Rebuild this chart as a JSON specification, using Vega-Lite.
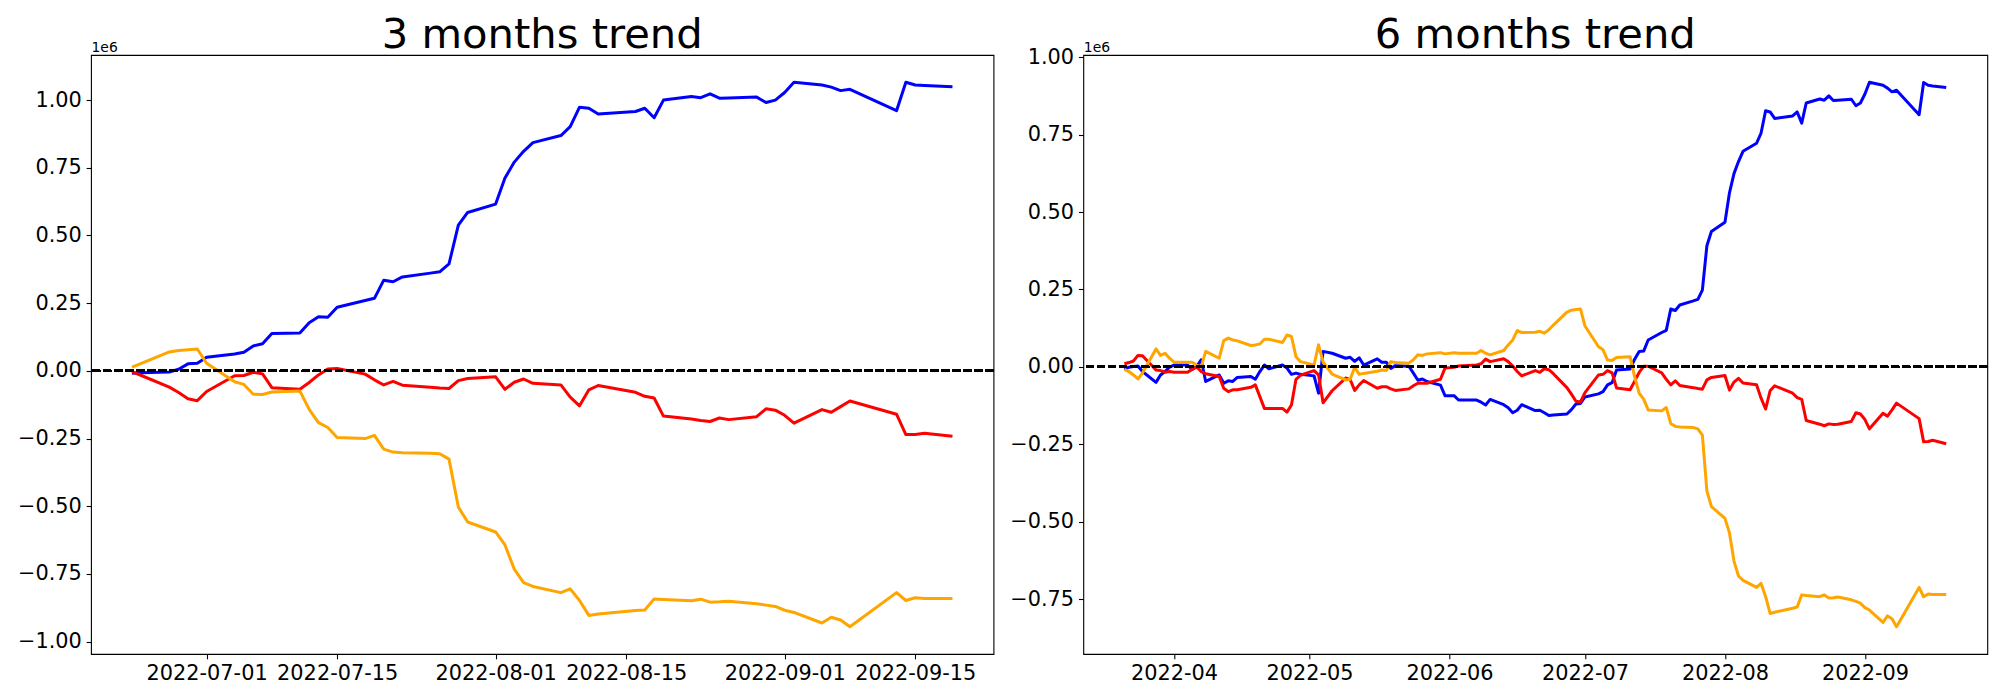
{
  "$schema": "https://vega.github.io/schema/vega-lite/v6.json",
  "background": "white",
  "padding": {"left": 16, "top": 14, "right": 14, "bottom": 10},
  "bounds": "flush",
  "spacing": 89.3,
  "datasets": {
    "m3": [
      {"date": "2022-06-23", "Foreign": -9000, "Institution": -3000, "Individual": 14000},
      {"date": "2022-06-24", "Foreign": -7000, "Institution": -17000, "Individual": 28000},
      {"date": "2022-06-27", "Foreign": -4000, "Institution": -60000, "Individual": 70000},
      {"date": "2022-06-28", "Foreign": 6000, "Institution": -80000, "Individual": 75000},
      {"date": "2022-06-29", "Foreign": 26000, "Institution": -103000, "Individual": 78000},
      {"date": "2022-06-30", "Foreign": 28000, "Institution": -110000, "Individual": 81000},
      {"date": "2022-07-01", "Foreign": 50000, "Institution": -76000, "Individual": 28000},
      {"date": "2022-07-04", "Foreign": 62000, "Institution": -18000, "Individual": -40000},
      {"date": "2022-07-05", "Foreign": 69000, "Institution": -17000, "Individual": -50000},
      {"date": "2022-07-06", "Foreign": 92000, "Institution": -5000, "Individual": -86000},
      {"date": "2022-07-07", "Foreign": 100000, "Institution": -11000, "Individual": -87000},
      {"date": "2022-07-08", "Foreign": 138000, "Institution": -62000, "Individual": -78000},
      {"date": "2022-07-11", "Foreign": 140000, "Institution": -68000, "Individual": -74000},
      {"date": "2022-07-12", "Foreign": 178000, "Institution": -43000, "Individual": -142000},
      {"date": "2022-07-13", "Foreign": 200000, "Institution": -15000, "Individual": -191000},
      {"date": "2022-07-14", "Foreign": 198000, "Institution": 7000, "Individual": -209000},
      {"date": "2022-07-15", "Foreign": 235000, "Institution": 9000, "Individual": -246000},
      {"date": "2022-07-18", "Foreign": 260000, "Institution": -12000, "Individual": -250000},
      {"date": "2022-07-19", "Foreign": 268000, "Institution": -33000, "Individual": -238000},
      {"date": "2022-07-20", "Foreign": 335000, "Institution": -52000, "Individual": -289000},
      {"date": "2022-07-21", "Foreign": 329000, "Institution": -39000, "Individual": -300000},
      {"date": "2022-07-22", "Foreign": 347000, "Institution": -53000, "Individual": -302000},
      {"date": "2022-07-25", "Foreign": 361000, "Institution": -60000, "Individual": -304000},
      {"date": "2022-07-26", "Foreign": 366000, "Institution": -63000, "Individual": -306000},
      {"date": "2022-07-27", "Foreign": 395000, "Institution": -65000, "Individual": -326000},
      {"date": "2022-07-28", "Foreign": 538000, "Institution": -36000, "Individual": -503000},
      {"date": "2022-07-29", "Foreign": 585000, "Institution": -28000, "Individual": -558000},
      {"date": "2022-08-01", "Foreign": 616000, "Institution": -22000, "Individual": -595000},
      {"date": "2022-08-02", "Foreign": 712000, "Institution": -68000, "Individual": -643000},
      {"date": "2022-08-03", "Foreign": 771000, "Institution": -42000, "Individual": -732000},
      {"date": "2022-08-04", "Foreign": 811000, "Institution": -30000, "Individual": -782000},
      {"date": "2022-08-05", "Foreign": 843000, "Institution": -46000, "Individual": -796000},
      {"date": "2022-08-08", "Foreign": 869000, "Institution": -52000, "Individual": -819000},
      {"date": "2022-08-09", "Foreign": 902000, "Institution": -97000, "Individual": -805000},
      {"date": "2022-08-10", "Foreign": 974000, "Institution": -129000, "Individual": -848000},
      {"date": "2022-08-11", "Foreign": 970000, "Institution": -70000, "Individual": -903000},
      {"date": "2022-08-12", "Foreign": 949000, "Institution": -54000, "Individual": -898000},
      {"date": "2022-08-16", "Foreign": 958000, "Institution": -79000, "Individual": -885000},
      {"date": "2022-08-17", "Foreign": 970000, "Institution": -94000, "Individual": -883000},
      {"date": "2022-08-18", "Foreign": 935000, "Institution": -100000, "Individual": -842000},
      {"date": "2022-08-19", "Foreign": 1000000, "Institution": -167000, "Individual": -844000},
      {"date": "2022-08-22", "Foreign": 1013000, "Institution": -178000, "Individual": -849000},
      {"date": "2022-08-23", "Foreign": 1009000, "Institution": -183000, "Individual": -843000},
      {"date": "2022-08-24", "Foreign": 1023000, "Institution": -187000, "Individual": -854000},
      {"date": "2022-08-25", "Foreign": 1007000, "Institution": -174000, "Individual": -853000},
      {"date": "2022-08-26", "Foreign": 1008000, "Institution": -180000, "Individual": -851000},
      {"date": "2022-08-29", "Foreign": 1011000, "Institution": -169000, "Individual": -860000},
      {"date": "2022-08-30", "Foreign": 991000, "Institution": -140000, "Individual": -865000},
      {"date": "2022-08-31", "Foreign": 1000000, "Institution": -145000, "Individual": -870000},
      {"date": "2022-09-01", "Foreign": 1028000, "Institution": -164000, "Individual": -884000},
      {"date": "2022-09-02", "Foreign": 1066000, "Institution": -193000, "Individual": -892000},
      {"date": "2022-09-05", "Foreign": 1056000, "Institution": -143000, "Individual": -931000},
      {"date": "2022-09-06", "Foreign": 1048000, "Institution": -153000, "Individual": -910000},
      {"date": "2022-09-07", "Foreign": 1035000, "Institution": -132000, "Individual": -920000},
      {"date": "2022-09-08", "Foreign": 1040000, "Institution": -111000, "Individual": -945000},
      {"date": "2022-09-13", "Foreign": 961000, "Institution": -160000, "Individual": -819000},
      {"date": "2022-09-14", "Foreign": 1066000, "Institution": -235000, "Individual": -848000},
      {"date": "2022-09-15", "Foreign": 1056000, "Institution": -235000, "Individual": -838000},
      {"date": "2022-09-16", "Foreign": 1054000, "Institution": -230000, "Individual": -841000},
      {"date": "2022-09-19", "Foreign": 1049000, "Institution": -241000, "Individual": -841000}
    ],
    "m6": [
      {"date": "2022-03-21", "Foreign": -8000, "Institution": 10000, "Individual": -8000},
      {"date": "2022-03-22", "Foreign": -1000, "Institution": 14000, "Individual": -15000},
      {"date": "2022-03-23", "Foreign": 1000, "Institution": 19000, "Individual": -26000},
      {"date": "2022-03-24", "Foreign": 3000, "Institution": 37000, "Individual": -39000},
      {"date": "2022-03-25", "Foreign": -15000, "Institution": 36000, "Individual": -20000},
      {"date": "2022-03-28", "Foreign": -50000, "Institution": -10000, "Individual": 58000},
      {"date": "2022-03-29", "Foreign": -26000, "Institution": -12000, "Individual": 37000},
      {"date": "2022-03-30", "Foreign": -15000, "Institution": -17000, "Individual": 44000},
      {"date": "2022-03-31", "Foreign": -1000, "Institution": -15000, "Individual": 28000},
      {"date": "2022-04-01", "Foreign": 6000, "Institution": -17000, "Individual": 15000},
      {"date": "2022-04-04", "Foreign": 6000, "Institution": -17000, "Individual": 15000},
      {"date": "2022-04-05", "Foreign": -8000, "Institution": -8000, "Individual": 15000},
      {"date": "2022-04-06", "Foreign": 1000, "Institution": 0, "Individual": 6000},
      {"date": "2022-04-07", "Foreign": 23000, "Institution": -15000, "Individual": -1000},
      {"date": "2022-04-08", "Foreign": -47000, "Institution": -22000, "Individual": 50000},
      {"date": "2022-04-11", "Foreign": -26000, "Institution": -31000, "Individual": 28000},
      {"date": "2022-04-12", "Foreign": -53000, "Institution": -69000, "Individual": 85000},
      {"date": "2022-04-13", "Foreign": -45000, "Institution": -80000, "Individual": 93000},
      {"date": "2022-04-14", "Foreign": -47000, "Institution": -74000, "Individual": 87000},
      {"date": "2022-04-15", "Foreign": -34000, "Institution": -74000, "Individual": 84000},
      {"date": "2022-04-18", "Foreign": -31000, "Institution": -66000, "Individual": 69000},
      {"date": "2022-04-19", "Foreign": -40000, "Institution": -58000, "Individual": 71000},
      {"date": "2022-04-20", "Foreign": -15000, "Institution": -96000, "Individual": 74000},
      {"date": "2022-04-21", "Foreign": 6000, "Institution": -134000, "Individual": 89000},
      {"date": "2022-04-22", "Foreign": -6000, "Institution": -134000, "Individual": 89000},
      {"date": "2022-04-25", "Foreign": 6000, "Institution": -134000, "Individual": 79000},
      {"date": "2022-04-26", "Foreign": -4000, "Institution": -146000, "Individual": 103000},
      {"date": "2022-04-27", "Foreign": -24000, "Institution": -123000, "Individual": 98000},
      {"date": "2022-04-28", "Foreign": -20000, "Institution": -40000, "Individual": 33000},
      {"date": "2022-04-29", "Foreign": -24000, "Institution": -27000, "Individual": 17000},
      {"date": "2022-05-02", "Foreign": -29000, "Institution": -12000, "Individual": 6000},
      {"date": "2022-05-03", "Foreign": -85000, "Institution": -26000, "Individual": 71000},
      {"date": "2022-05-04", "Foreign": 50000, "Institution": -116000, "Individual": 15000},
      {"date": "2022-05-06", "Foreign": 44000, "Institution": -77000, "Individual": -23000},
      {"date": "2022-05-09", "Foreign": 28000, "Institution": -36000, "Individual": -42000},
      {"date": "2022-05-10", "Foreign": 31000, "Institution": -41000, "Individual": -40000},
      {"date": "2022-05-11", "Foreign": 18000, "Institution": -76000, "Individual": -1000},
      {"date": "2022-05-12", "Foreign": 29000, "Institution": -58000, "Individual": -24000},
      {"date": "2022-05-13", "Foreign": 6000, "Institution": -44000, "Individual": -21000},
      {"date": "2022-05-16", "Foreign": 26000, "Institution": -69000, "Individual": -14000},
      {"date": "2022-05-17", "Foreign": 15000, "Institution": -64000, "Individual": -10000},
      {"date": "2022-05-18", "Foreign": 15000, "Institution": -64000, "Individual": -12000},
      {"date": "2022-05-19", "Foreign": -5000, "Institution": -71000, "Individual": 17000},
      {"date": "2022-05-20", "Foreign": 4000, "Institution": -76000, "Individual": 14000},
      {"date": "2022-05-23", "Foreign": 2000, "Institution": -71000, "Individual": 12000},
      {"date": "2022-05-24", "Foreign": -20000, "Institution": -61000, "Individual": 23000},
      {"date": "2022-05-25", "Foreign": -43000, "Institution": -53000, "Individual": 39000},
      {"date": "2022-05-26", "Foreign": -39000, "Institution": -53000, "Individual": 37000},
      {"date": "2022-05-27", "Foreign": -47000, "Institution": -53000, "Individual": 42000},
      {"date": "2022-05-30", "Foreign": -59000, "Institution": -40000, "Individual": 46000},
      {"date": "2022-05-31", "Foreign": -93000, "Institution": -4000, "Individual": 42000},
      {"date": "2022-06-02", "Foreign": -93000, "Institution": -1000, "Individual": 46000},
      {"date": "2022-06-03", "Foreign": -107000, "Institution": 3000, "Individual": 44000},
      {"date": "2022-06-07", "Foreign": -107000, "Institution": 6000, "Individual": 44000},
      {"date": "2022-06-08", "Foreign": -114000, "Institution": 10000, "Individual": 53000},
      {"date": "2022-06-09", "Foreign": -123000, "Institution": 25000, "Individual": 44000},
      {"date": "2022-06-10", "Foreign": -105000, "Institution": 17000, "Individual": 39000},
      {"date": "2022-06-13", "Foreign": -122000, "Institution": 26000, "Individual": 53000},
      {"date": "2022-06-14", "Foreign": -132000, "Institution": 17000, "Individual": 71000},
      {"date": "2022-06-15", "Foreign": -148000, "Institution": 3000, "Individual": 87000},
      {"date": "2022-06-16", "Foreign": -140000, "Institution": -15000, "Individual": 117000},
      {"date": "2022-06-17", "Foreign": -122000, "Institution": -29000, "Individual": 111000},
      {"date": "2022-06-20", "Foreign": -141000, "Institution": -12000, "Individual": 112000},
      {"date": "2022-06-21", "Foreign": -140000, "Institution": -18000, "Individual": 115000},
      {"date": "2022-06-22", "Foreign": -148000, "Institution": -6000, "Individual": 109000},
      {"date": "2022-06-23", "Foreign": -157000, "Institution": -9000, "Individual": 120000},
      {"date": "2022-06-24", "Foreign": -155000, "Institution": -22000, "Individual": 135000},
      {"date": "2022-06-27", "Foreign": -152000, "Institution": -67000, "Individual": 177000},
      {"date": "2022-06-28", "Foreign": -138000, "Institution": -88000, "Individual": 183000},
      {"date": "2022-06-29", "Foreign": -120000, "Institution": -111000, "Individual": 185000},
      {"date": "2022-06-30", "Foreign": -118000, "Institution": -113000, "Individual": 187000},
      {"date": "2022-07-01", "Foreign": -97000, "Institution": -83000, "Individual": 132000},
      {"date": "2022-07-04", "Foreign": -87000, "Institution": -26000, "Individual": 65000},
      {"date": "2022-07-05", "Foreign": -80000, "Institution": -24000, "Individual": 55000},
      {"date": "2022-07-06", "Foreign": -58000, "Institution": -12000, "Individual": 22000},
      {"date": "2022-07-07", "Foreign": -51000, "Institution": -19000, "Individual": 21000},
      {"date": "2022-07-08", "Foreign": -10000, "Institution": -68000, "Individual": 30000},
      {"date": "2022-07-11", "Foreign": -7000, "Institution": -74000, "Individual": 33000},
      {"date": "2022-07-12", "Foreign": 25000, "Institution": -46000, "Individual": -32000},
      {"date": "2022-07-13", "Foreign": 50000, "Institution": -18000, "Individual": -85000},
      {"date": "2022-07-14", "Foreign": 51000, "Institution": 2000, "Individual": -104000},
      {"date": "2022-07-15", "Foreign": 87000, "Institution": 2000, "Individual": -139000},
      {"date": "2022-07-18", "Foreign": 111000, "Institution": -19000, "Individual": -142000},
      {"date": "2022-07-19", "Foreign": 118000, "Institution": -40000, "Individual": -131000},
      {"date": "2022-07-20", "Foreign": 187000, "Institution": -58000, "Individual": -183000},
      {"date": "2022-07-21", "Foreign": 182000, "Institution": -45000, "Individual": -192000},
      {"date": "2022-07-22", "Foreign": 200000, "Institution": -60000, "Individual": -194000},
      {"date": "2022-07-25", "Foreign": 213000, "Institution": -67000, "Individual": -196000},
      {"date": "2022-07-26", "Foreign": 218000, "Institution": -70000, "Individual": -200000},
      {"date": "2022-07-27", "Foreign": 248000, "Institution": -72000, "Individual": -220000},
      {"date": "2022-07-28", "Foreign": 391000, "Institution": -42000, "Individual": -400000},
      {"date": "2022-07-29", "Foreign": 437000, "Institution": -34000, "Individual": -451000},
      {"date": "2022-08-01", "Foreign": 467000, "Institution": -28000, "Individual": -489000},
      {"date": "2022-08-02", "Foreign": 562000, "Institution": -75000, "Individual": -536000},
      {"date": "2022-08-03", "Foreign": 624000, "Institution": -49000, "Individual": -627000},
      {"date": "2022-08-04", "Foreign": 663000, "Institution": -37000, "Individual": -675000},
      {"date": "2022-08-05", "Foreign": 696000, "Institution": -52000, "Individual": -689000},
      {"date": "2022-08-08", "Foreign": 722000, "Institution": -58000, "Individual": -712000},
      {"date": "2022-08-09", "Foreign": 755000, "Institution": -101000, "Individual": -699000},
      {"date": "2022-08-10", "Foreign": 827000, "Institution": -136000, "Individual": -741000},
      {"date": "2022-08-11", "Foreign": 823000, "Institution": -77000, "Individual": -796000},
      {"date": "2022-08-12", "Foreign": 802000, "Institution": -61000, "Individual": -792000},
      {"date": "2022-08-16", "Foreign": 810000, "Institution": -85000, "Individual": -779000},
      {"date": "2022-08-17", "Foreign": 823000, "Institution": -99000, "Individual": -775000},
      {"date": "2022-08-18", "Foreign": 787000, "Institution": -105000, "Individual": -736000},
      {"date": "2022-08-19", "Foreign": 852000, "Institution": -173000, "Individual": -738000},
      {"date": "2022-08-22", "Foreign": 865000, "Institution": -185000, "Individual": -742000},
      {"date": "2022-08-23", "Foreign": 861000, "Institution": -190000, "Individual": -736000},
      {"date": "2022-08-24", "Foreign": 875000, "Institution": -184000, "Individual": -746000},
      {"date": "2022-08-25", "Foreign": 860000, "Institution": -186000, "Individual": -745000},
      {"date": "2022-08-26", "Foreign": 861000, "Institution": -185000, "Individual": -743000},
      {"date": "2022-08-29", "Foreign": 864000, "Institution": -176000, "Individual": -752000},
      {"date": "2022-08-30", "Foreign": 843000, "Institution": -148000, "Individual": -757000},
      {"date": "2022-08-31", "Foreign": 852000, "Institution": -152000, "Individual": -763000},
      {"date": "2022-09-01", "Foreign": 881000, "Institution": -170000, "Individual": -777000},
      {"date": "2022-09-02", "Foreign": 919000, "Institution": -200000, "Individual": -785000},
      {"date": "2022-09-05", "Foreign": 909000, "Institution": -150000, "Individual": -825000},
      {"date": "2022-09-06", "Foreign": 900000, "Institution": -159000, "Individual": -804000},
      {"date": "2022-09-07", "Foreign": 888000, "Institution": -139000, "Individual": -813000},
      {"date": "2022-09-08", "Foreign": 893000, "Institution": -117000, "Individual": -839000},
      {"date": "2022-09-13", "Foreign": 814000, "Institution": -167000, "Individual": -712000},
      {"date": "2022-09-14", "Foreign": 918000, "Institution": -242000, "Individual": -742000},
      {"date": "2022-09-15", "Foreign": 909000, "Institution": -241000, "Individual": -733000},
      {"date": "2022-09-16", "Foreign": 907000, "Institution": -237000, "Individual": -735000},
      {"date": "2022-09-19", "Foreign": 902000, "Institution": -248000, "Individual": -735000}
    ]
  },
  "hconcat": [
    {
      "title": "3 months trend",
      "width": 902.5,
      "height": 599,
      "data": {"name": "m3"},
      "transform": [{"fold": ["Foreign", "Institution", "Individual"], "as": ["series", "value"]}],
      "layer": [
        {
          "mark": {"type": "line", "strokeWidth": 3, "strokeJoin": "round"},
          "encoding": {
            "x": {
              "field": "date", "type": "temporal",
              "scale": {"type": "utc", "domain": [{"year": 2022, "month": 6, "date": 18, "hours": 14, "minutes": 24, "utc": true}, {"year": 2022, "month": 9, "date": 23, "hours": 9, "minutes": 36, "utc": true}]},
              "axis": {"title": null, "format": "%Y-%m-%d", "values": [
                {"year": 2022, "month": 7, "date": 1, "utc": true},
                {"year": 2022, "month": 7, "date": 15, "utc": true},
                {"year": 2022, "month": 8, "date": 1, "utc": true},
                {"year": 2022, "month": 8, "date": 15, "utc": true},
                {"year": 2022, "month": 9, "date": 1, "utc": true},
                {"year": 2022, "month": 9, "date": 15, "utc": true}
              ]}
            },
            "y": {
              "field": "value", "type": "quantitative",
              "scale": {"domain": [-1045550, 1166550], "nice": false, "zero": false},
              "axis": {
                "values": [-1000000, -750000, -500000, -250000, 0, 250000, 500000, 750000, 1000000],
                "labelExpr": "format(datum.value / 1000000, '.2f')",
                "title": "1e6", "titleAngle": 0, "titleAlign": "left", "titleBaseline": "alphabetic",
                "titleX": 0, "titleY": -3.5, "titleFontSize": 13.9
              }
            },
            "color": {
              "field": "series", "type": "nominal",
              "scale": {"domain": ["Foreign", "Institution", "Individual"], "range": ["#0000ff", "#ff0000", "#ffa500"]},
              "legend": null
            }
          }
        },
        {
          "mark": {"type": "rule", "color": "black", "strokeWidth": 2.08, "strokeDash": [7.7, 3.33]},
          "encoding": {"y": {"datum": 0}}
        }
      ]
    },
    {
      "title": "6 months trend",
      "width": 904,
      "height": 599,
      "data": {"name": "m6"},
      "transform": [{"fold": ["Foreign", "Institution", "Individual"], "as": ["series", "value"]}],
      "layer": [
        {
          "mark": {"type": "line", "strokeWidth": 3, "strokeJoin": "round"},
          "encoding": {
            "x": {
              "field": "date", "type": "temporal",
              "scale": {"type": "utc", "domain": [{"year": 2022, "month": 3, "date": 11, "hours": 21, "minutes": 36, "utc": true}, {"year": 2022, "month": 9, "date": 28, "hours": 2, "minutes": 24, "utc": true}]},
              "axis": {"title": null, "format": "%Y-%m", "values": [
                {"year": 2022, "month": 4, "date": 1, "utc": true},
                {"year": 2022, "month": 5, "date": 1, "utc": true},
                {"year": 2022, "month": 6, "date": 1, "utc": true},
                {"year": 2022, "month": 7, "date": 1, "utc": true},
                {"year": 2022, "month": 8, "date": 1, "utc": true},
                {"year": 2022, "month": 9, "date": 1, "utc": true}
              ]}
            },
            "y": {
              "field": "value", "type": "quantitative",
              "scale": {"domain": [-926900, 1006900], "nice": false, "zero": false},
              "axis": {
                "values": [-750000, -500000, -250000, 0, 250000, 500000, 750000, 1000000],
                "labelExpr": "format(datum.value / 1000000, '.2f')",
                "title": "1e6", "titleAngle": 0, "titleAlign": "left", "titleBaseline": "alphabetic",
                "titleX": 0, "titleY": -3.5, "titleFontSize": 13.9
              }
            },
            "color": {
              "field": "series", "type": "nominal",
              "scale": {"domain": ["Foreign", "Institution", "Individual"], "range": ["#0000ff", "#ff0000", "#ffa500"]},
              "legend": null
            }
          }
        },
        {
          "mark": {"type": "rule", "color": "black", "strokeWidth": 2.08, "strokeDash": [7.7, 3.33]},
          "encoding": {"y": {"datum": 0}}
        }
      ]
    }
  ],
  "resolve": {"scale": {"x": "independent", "y": "independent", "color": "shared"}},
  "config": {
    "font": "DejaVu Sans",
    "view": {"stroke": "black", "strokeWidth": 1.1},
    "axis": {
      "domain": false, "grid": false,
      "labelFont": "DejaVu Sans", "labelFontSize": 20.83, "labelColor": "black",
      "labelFlush": false, "labelOverlap": false, "labelPadding": 4.86,
      "tickColor": "black", "tickSize": 4.86, "tickWidth": 1.1,
      "titleFont": "DejaVu Sans", "titleFontWeight": "normal", "titleColor": "black"
    },
    "title": {
      "font": "DejaVu Sans", "fontSize": 41.67, "fontWeight": "normal", "color": "black",
      "anchor": "middle", "frame": "group", "baseline": "alphabetic", "offset": -16
    }
  }
}
